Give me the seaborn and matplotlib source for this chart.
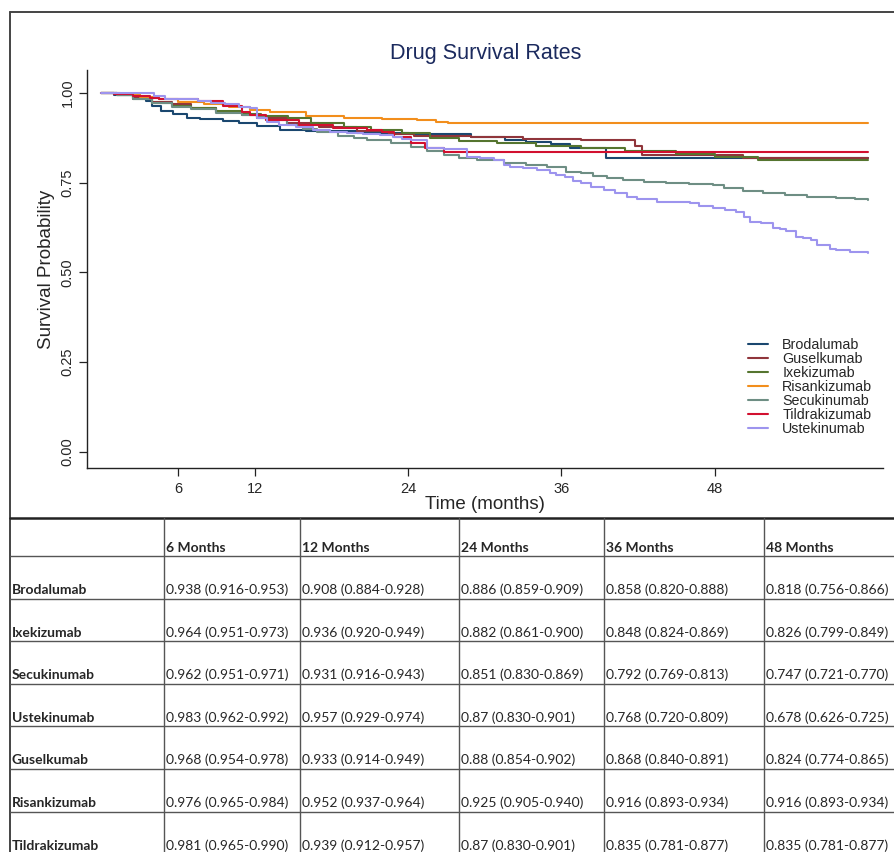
import numpy as np
import pandas as pd
import matplotlib
matplotlib.use("Agg")
import matplotlib.pyplot as plt
import seaborn as sns

# 곡선 데이터 (개월, 생존확률) - 그림에서 읽은 값
brodalumab_t = [0, 1.0, 2.8, 3.5, 4.0, 4.7, 5.6, 6.7, 7.7, 9.5, 10.8, 12.2, 14.0, 16.0, 20.0,
                24.1, 28.9, 31.6, 33.2, 35.2, 36.7, 39.5, 60.0]
brodalumab_s = [1.0, 0.995, 0.99, 0.978, 0.964, 0.95, 0.941, 0.931, 0.927, 0.922, 0.916, 0.908,
                0.897, 0.893, 0.889, 0.885, 0.876, 0.869, 0.864, 0.857, 0.848, 0.818, 0.818]

guselkumab_t = [0, 1.2, 2.5, 4.0, 5.5, 7.0, 9.0, 11.0, 12.2, 14.5, 17.0, 20.0, 22.5, 24.5,
                28.9, 33.0, 37.5, 41.8, 42.3, 50.2, 60.0]
guselkumab_s = [1.0, 0.995, 0.985, 0.975, 0.968, 0.958, 0.948, 0.94, 0.93, 0.915, 0.905, 0.895,
                0.887, 0.88, 0.876, 0.872, 0.869, 0.853, 0.827, 0.818, 0.818]

ixekizumab_t = [0, 1.2, 2.5, 4.0, 5.5, 7.0, 9.0, 11.0, 12.5, 14.6, 16.4, 19.0, 21.1, 23.5,
                25.7, 28.0, 31.0, 34.0, 37.5, 41.0, 45.0, 48.0, 51.4, 60.0]
ixekizumab_s = [1.0, 0.993, 0.983, 0.973, 0.965, 0.958, 0.95, 0.942, 0.936, 0.93, 0.916, 0.906,
                0.897, 0.888, 0.874, 0.866, 0.86, 0.853, 0.846, 0.838, 0.83, 0.823, 0.813, 0.813]

risankizumab_t = [0, 1.5, 3.0, 4.5, 6.0, 8.0, 10.0, 11.6, 13.2, 16.0, 19.0, 22.0, 24.7, 26.2,
                  27.1, 60.0]
risankizumab_s = [1.0, 0.997, 0.99, 0.982, 0.976, 0.97, 0.962, 0.952, 0.946, 0.937, 0.93, 0.927,
                  0.925, 0.92, 0.916, 0.916]

secukinumab_t = [0, 1.2, 2.5, 4.0, 5.5, 7.0, 9.0, 11.0, 12.2, 12.9, 14.5, 15.8, 16.9, 18.5,
                 19.8, 20.8, 22.7, 24.2, 25.5, 26.8, 28.0, 29.4, 31.5, 33.2, 34.9, 36.4, 37.5,
                 38.5, 39.6, 40.8, 42.5, 44.2, 46.0, 47.9, 48.7, 50.2, 51.8, 53.5, 55.2, 57.5,
                 59.0, 60.0]
secukinumab_s = [1.0, 0.993, 0.982, 0.972, 0.962, 0.955, 0.945, 0.938, 0.932, 0.925, 0.91, 0.9,
                 0.892, 0.88, 0.874, 0.869, 0.86, 0.85, 0.838, 0.827, 0.82, 0.813, 0.804, 0.8,
                 0.795, 0.781, 0.776, 0.769, 0.763, 0.758, 0.753, 0.748, 0.746, 0.744, 0.735,
                 0.728, 0.721, 0.716, 0.711, 0.707, 0.704, 0.702]

tildrakizumab_t = [0, 1.0, 2.5, 3.8, 4.5, 7.6, 9.5, 11.0, 11.6, 12.9, 15.5, 18.1, 20.8, 22.0,
                   22.9, 24.2, 25.3, 26.8, 60.0]
tildrakizumab_s = [1.0, 0.997, 0.992, 0.987, 0.982, 0.978, 0.965, 0.948, 0.939, 0.925, 0.911,
                   0.902, 0.897, 0.892, 0.878, 0.862, 0.846, 0.835, 0.835]

ustekinumab_t = [0, 4.1, 5.0, 6.0, 7.6, 8.6, 9.7, 10.8, 11.6, 12.2, 13.0, 13.9, 15.2, 16.6,
                 17.9, 19.2, 20.5, 21.8, 22.8, 23.5, 24.2, 25.5, 26.8, 28.1, 28.6, 29.6, 30.7,
                 31.5, 32.0, 33.0, 34.1, 35.1, 35.6, 36.3, 36.9, 37.5, 38.3, 39.3, 40.2, 41.1,
                 41.9, 43.5, 45.0, 46.1, 46.8, 47.9, 48.8, 49.7, 50.3, 50.8, 51.6, 52.6, 53.1,
                 53.6, 54.4, 54.9, 55.5, 56.0, 57.0, 57.5, 58.6, 60.0]
ustekinumab_s = [1.0, 0.992, 0.984, 0.982, 0.978, 0.973, 0.968, 0.962, 0.957, 0.93, 0.92, 0.911,
                 0.904, 0.897, 0.892, 0.888, 0.885, 0.883, 0.876, 0.872, 0.869, 0.846, 0.844,
                 0.843, 0.823, 0.818, 0.813, 0.8, 0.795, 0.79, 0.786, 0.776, 0.772, 0.765, 0.755,
                 0.748, 0.739, 0.73, 0.72, 0.711, 0.705, 0.697, 0.695, 0.693, 0.686, 0.679, 0.674,
                 0.669, 0.655, 0.641, 0.637, 0.623, 0.62, 0.615, 0.6, 0.595, 0.591, 0.577, 0.565,
                 0.563, 0.558, 0.555]

drugs = ["Brodalumab", "Guselkumab", "Ixekizumab", "Risankizumab",
         "Secukinumab", "Tildrakizumab", "Ustekinumab"]
times = [brodalumab_t, guselkumab_t, ixekizumab_t, risankizumab_t,
         secukinumab_t, tildrakizumab_t, ustekinumab_t]
survs = [brodalumab_s, guselkumab_s, ixekizumab_s, risankizumab_s,
         secukinumab_s, tildrakizumab_s, ustekinumab_s]
colors = ["#1a476f", "#90353b", "#55752f", "#f28e1c", "#6e8e84", "#d2102f", "#9d94ee"]

x_ticks = [6, 12, 24, 36, 48]
y_ticks = [0.0, 0.25, 0.5, 0.75, 1.0]

# 표 데이터
table_drugs = ["Brodalumab", "Ixekizumab", "Secukinumab", "Ustekinumab",
               "Guselkumab", "Risankizumab", "Tildrakizumab"]
table_header = ["6 Months", "12 Months", "24 Months", "36 Months", "48 Months"]
m6 = ["0.938 (0.916-0.953)", "0.964 (0.951-0.973)", "0.962 (0.951-0.971)", "0.983 (0.962-0.992)",
      "0.968 (0.954-0.978)", "0.976 (0.965-0.984)", "0.981 (0.965-0.990)"]
m12 = ["0.908 (0.884-0.928)", "0.936 (0.920-0.949)", "0.931 (0.916-0.943)", "0.957 (0.929-0.974)",
       "0.933 (0.914-0.949)", "0.952 (0.937-0.964)", "0.939 (0.912-0.957)"]
m24 = ["0.886 (0.859-0.909)", "0.882 (0.861-0.900)", "0.851 (0.830-0.869)", "0.87 (0.830-0.901)",
       "0.88 (0.854-0.902)", "0.925 (0.905-0.940)", "0.87 (0.830-0.901)"]
m36 = ["0.858 (0.820-0.888)", "0.848 (0.824-0.869)", "0.792 (0.769-0.813)", "0.768 (0.720-0.809)",
       "0.868 (0.840-0.891)", "0.916 (0.893-0.934)", "0.835 (0.781-0.877)"]
m48 = ["0.818 (0.756-0.866)", "0.826 (0.799-0.849)", "0.747 (0.721-0.770)", "0.678 (0.626-0.725)",
       "0.824 (0.774-0.865)", "0.916 (0.893-0.934)", "0.835 (0.781-0.877)"]

# 스타일
sns.set_theme(style="ticks")
plt.rcParams["font.family"] = ["Liberation Sans", "DejaVu Sans"]
table_font = ["Lato", "DejaVu Sans"]

df = pd.concat(
    [pd.DataFrame({"time": t, "surv": s, "drug": d}) for d, t, s in zip(drugs, times, survs)],
    ignore_index=True,
)

fig = plt.figure(figsize=(8.94, 8.52), dpi=100)

# 배경 (테두리와 표) - 픽셀 좌표
bg = fig.add_axes([0, 0, 1, 1])
bg.set_xlim(0, 894)
bg.set_ylim(852, 0)
bg.axis("off")

bg.plot([9.5, 9.5], [12, 852], color="#444444", lw=1.4)
bg.plot([9.5, 894], [12, 12], color="#444444", lw=1.4)

col_x = [9.5, 164, 300, 459, 604, 764]
row_y = [518, 556] + [556 + 42.6 * (i + 1) for i in range(len(table_drugs))]
bg.plot([9.5, 894], [row_y[0], row_y[0]], color="#222222", lw=1.8)
for y in row_y[1:]:
    bg.plot([9.5, 894], [y, y], color="#555555", lw=1.0)
for x in col_x[1:]:
    bg.plot([x, x], [row_y[0], 852], color="#555555", lw=1.0)

for j, h in enumerate(table_header):
    bg.text(col_x[j + 1] + 2, row_y[1] - 4.5, h, fontsize=10, fontweight="bold",
            family=table_font, va="baseline", ha="left")

columns = [m6, m12, m24, m36, m48]
for i, name in enumerate(table_drugs):
    base = row_y[i + 2] - 4.5
    bg.text(col_x[0] + 2.5, base, name, fontsize=10, fontweight="bold",
            family=table_font, va="baseline", ha="left")
    for j, col in enumerate(columns):
        bg.text(col_x[j + 1] + 2, base, col[i], fontsize=10,
                family=table_font, va="baseline", ha="left")

# 생존 곡선
ax = fig.add_axes([87 / 894, (852 - 468) / 852, (883 - 87) / 894, (468 - 70) / 852])
ax.patch.set_alpha(0)
sns.lineplot(data=df, x="time", y="surv", hue="drug", hue_order=drugs, palette=colors,
             estimator=None, errorbar=None, drawstyle="steps-post", linewidth=1.5, ax=ax)

ax.set_xlim(-1.12, 61.17)
ax.set_ylim(-0.0446, 1.064)
ax.set_xticks(x_ticks)
ax.set_xticklabels([str(v) for v in x_ticks])
ax.set_yticks(y_ticks)
ax.set_yticklabels([f"{v:.2f}" for v in y_ticks], rotation=90, va="center")
ax.tick_params(axis="both", labelsize=10.5, length=6, width=0.9, color="#222222")
ax.tick_params(axis="x", pad=4)
ax.tick_params(axis="y", pad=3)
sns.despine(ax=ax)
for sp in ["left", "bottom"]:
    ax.spines[sp].set_color("#222222")
    ax.spines[sp].set_linewidth(1.0)

ax.set_xlabel("Time (months)", fontsize=13.5, labelpad=0)
ax.set_ylabel("Survival Probability", fontsize=13.5, labelpad=4)

sns.move_legend(ax, loc="center left", bbox_to_anchor=(0.814, 0.2035), frameon=False,
                title=None, fontsize=10.3, labelspacing=0.0, handlelength=1.4,
                handletextpad=1.0, borderpad=0.4)

fig.text(0.543, 1 - 53 / 852, "Drug Survival Rates", fontsize=15.5, color="#1b2a5e",
         ha="center", va="center")

fig.savefig("out.png", dpi=100)
